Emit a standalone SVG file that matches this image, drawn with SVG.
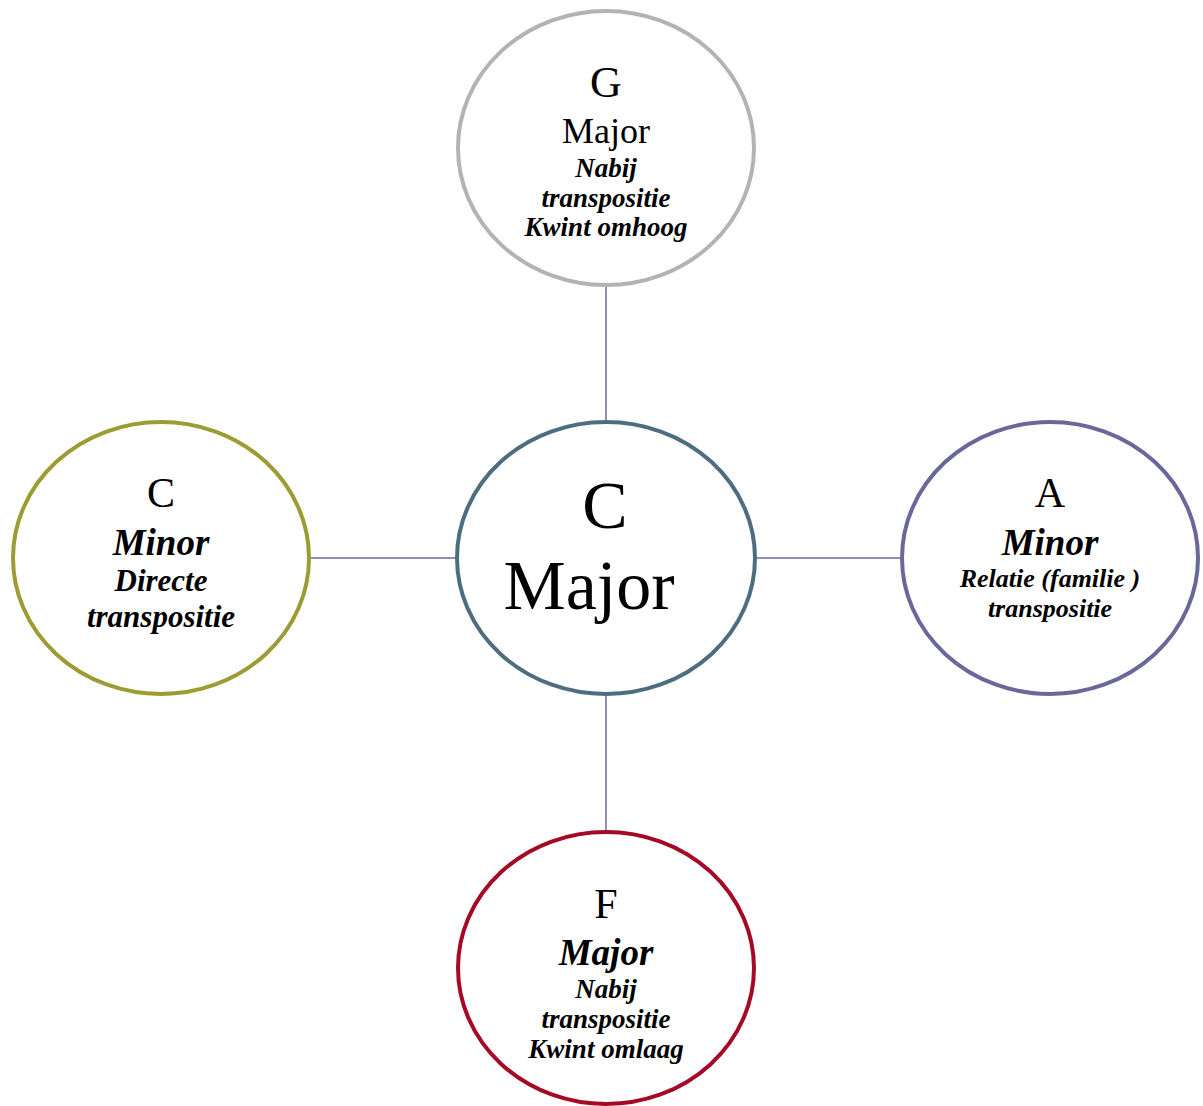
<svg xmlns="http://www.w3.org/2000/svg" width="1203" height="1106" viewBox="0 0 1203 1106">
<style>
text{font-family:"Liberation Serif","Times New Roman",serif;text-anchor:middle;fill:#000}
.bi{font-weight:bold;font-style:italic}
.node{fill:#fff;stroke-width:4}
.conn line{stroke:#6a689b;stroke-width:1.5}
</style>
<rect width="1203" height="1106" fill="#fff"/>
<g class="conn" id="connectors">
<line x1="606" y1="287" x2="606" y2="421"/>
<line x1="310" y1="558" x2="457" y2="558"/>
<line x1="755" y1="558" x2="902" y2="558"/>
<line x1="606" y1="696" x2="606" y2="831"/>
</g>
<g id="center">
<ellipse class="node" cx="606" cy="558" rx="149" ry="136" stroke="#4e6e80"/>
<text x="605" y="528" font-size="68">C</text>
<text x="589" y="609" font-size="70">Major</text>
</g>
<g id="g-major">
<ellipse class="node" cx="606" cy="148" rx="148" ry="137" stroke="#b3b3b3"/>
<text x="606" y="97" font-size="44">G</text>
<text x="606" y="143" font-size="36">Major</text>
<text x="606" y="177" font-size="27" class="bi">Nabij</text>
<text x="606" y="207" font-size="27" class="bi">transpositie</text>
<text x="606" y="236" font-size="27" class="bi">Kwint omhoog</text>
</g>
<g id="c-minor">
<ellipse class="node" cx="161" cy="558" rx="148" ry="136" stroke="#9c9b34"/>
<text x="161" y="507" font-size="42">C</text>
<text x="161" y="555" font-size="37" class="bi">Minor</text>
<text x="161" y="591" font-size="31" class="bi">Directe</text>
<text x="161" y="627" font-size="31" class="bi">transpositie</text>
</g>
<g id="a-minor">
<ellipse class="node" cx="1050" cy="558" rx="148" ry="136" stroke="#6a689b"/>
<text x="1050" y="507" font-size="42">A</text>
<text x="1050" y="555" font-size="37" class="bi">Minor</text>
<text x="1050" y="587" font-size="26" class="bi">Relatie (familie )</text>
<text x="1050" y="617" font-size="26" class="bi">transpositie</text>
</g>
<g id="f-major">
<ellipse class="node" cx="606" cy="968" rx="148" ry="136" stroke="#a40a26"/>
<text x="606" y="918" font-size="42">F</text>
<text x="606" y="965" font-size="37" class="bi">Major</text>
<text x="606" y="998" font-size="27" class="bi">Nabij</text>
<text x="606" y="1028" font-size="27" class="bi">transpositie</text>
<text x="606" y="1058" font-size="27" class="bi">Kwint omlaag</text>
</g>
</svg>
